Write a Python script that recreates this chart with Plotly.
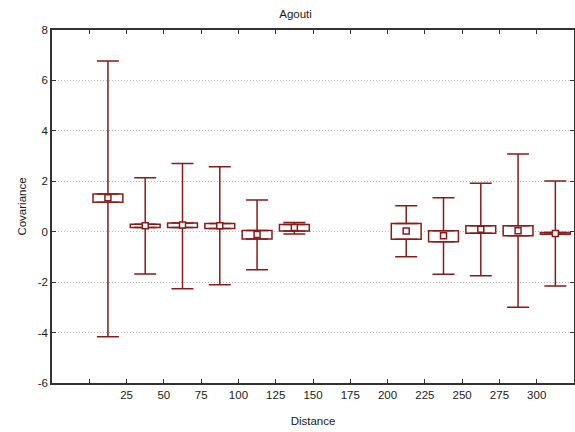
import plotly.graph_objects as go

# Data
distance = [12.5, 37.5, 62.5, 87.5, 112.5, 137.5, 212.5, 237.5, 262.5, 287.5, 312.5]
mean = [1.35, 0.24, 0.27, 0.24, -0.11, 0.17, 0.03, -0.16, 0.10, 0.04, -0.07]
box_low = [1.17, 0.17, 0.17, 0.13, -0.29, 0.03, -0.30, -0.40, -0.06, -0.16, -0.10]
box_high = [1.50, 0.30, 0.35, 0.33, 0.05, 0.29, 0.33, 0.04, 0.24, 0.24, -0.03]
whisk_low = [-4.17, -1.68, -2.26, -2.10, -1.51, -0.09, -0.99, -1.69, -1.75, -3.00, -2.15]
whisk_high = [6.77, 2.14, 2.71, 2.58, 1.26, 0.37, 1.03, 1.35, 1.92, 3.08, 2.01]

x_tickvals = [0, 25, 50, 75, 100, 125, 150, 175, 200, 225, 250, 275, 300]
x_ticktext = ["", "25", "50", "75", "100", "125", "150", "175", "200", "225", "250", "275", "300"]
y_tickvals = [-6, -4, -2, 0, 2, 4, 6, 8]
y_ticktext = ["-6", "-4", "-2", "0", "2", "4", "6", "8"]

RED = "#8b1a1a"
FONT = "Liberation Sans, Arial, sans-serif"

box_height = [h - l for h, l in zip(box_high, box_low)]
up_len = [w - h for w, h in zip(whisk_high, box_high)]
down_len = [l - w for l, w in zip(box_low, whisk_low)]
zeros = [0] * len(distance)

fig = go.Figure()

fig.add_trace(go.Bar(
    x=distance, y=box_height, base=box_low, width=20,
    marker=dict(color="white", line=dict(color=RED, width=1.5)),
    hoverinfo="skip",
))

fig.add_trace(go.Scatter(
    x=distance, y=box_high, mode="markers",
    marker=dict(color="rgba(0,0,0,0)", size=1),
    error_y=dict(type="data", symmetric=False, array=up_len, arrayminus=zeros,
                 color=RED, thickness=1.5, width=11),
    hoverinfo="skip",
))

fig.add_trace(go.Scatter(
    x=distance, y=box_low, mode="markers",
    marker=dict(color="rgba(0,0,0,0)", size=1),
    error_y=dict(type="data", symmetric=False, array=zeros, arrayminus=down_len,
                 color=RED, thickness=1.5, width=11),
    hoverinfo="skip",
))

fig.add_trace(go.Scatter(
    x=distance, y=mean, mode="markers",
    marker=dict(symbol="square", size=6, color="white", line=dict(color=RED, width=1.5)),
))

fig.update_layout(
    width=575, height=432,
    margin=dict(l=52, r=1, t=30, b=49, autoexpand=False),
    paper_bgcolor="white", plot_bgcolor="white",
    showlegend=False,
    barmode="overlay",
    font=dict(family=FONT, size=11.5, color="#1a1a1a"),
    title=dict(text="Agouti", x=0.514, xanchor="center", xref="container",
               y=1 - 14 / 432, yanchor="middle", yref="container",
               font=dict(size=11.5, family=FONT, color="#1a1a1a")),
)

fig.update_xaxes(
    range=[-25, 325], tickvals=x_tickvals, ticktext=x_ticktext,
    ticks="inside", ticklen=4, tickcolor="#333", mirror="allticks",
    showline=True, linecolor="#333", linewidth=1.5,
    showgrid=False, zeroline=False, automargin=False,
    title=dict(text="Distance", standoff=17, font=dict(size=11.5)),
)

fig.update_yaxes(
    range=[-6, 8], tickvals=y_tickvals, ticktext=y_ticktext,
    ticks="inside", ticklen=4, tickcolor="#333", mirror="allticks",
    showline=True, linecolor="#333", linewidth=1.5,
    showgrid=True, gridcolor="#b8b8b8", griddash="1px,2px", gridwidth=1,
    zeroline=False, automargin=False,
    title=dict(text="Covariance", standoff=9, font=dict(size=11.5)),
)

fig.write_html(
    "out.html",
    config={"displayModeBar": False},
    post_script="document.body.style.margin='0px';document.body.style.overflow='hidden';",
)
